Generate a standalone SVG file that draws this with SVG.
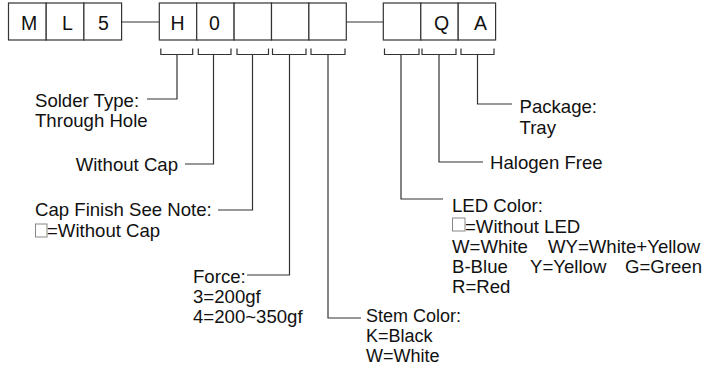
<svg xmlns="http://www.w3.org/2000/svg" width="706" height="367" viewBox="0 0 706 367">
<style>
.box{fill:#fff;stroke:#333;stroke-width:1.2}
.ln{fill:none;stroke:#333;stroke-width:1.2}
.t{font-family:"Liberation Sans",Arial,sans-serif;font-size:18.6px;fill:#111}
.s{font-size:18px}
.b{font-family:"Liberation Sans",Arial,sans-serif;font-size:19.5px;fill:#111;text-anchor:middle}
.sq{fill:#fff;stroke:#888;stroke-width:1}
</style>
<rect width="706" height="367" fill="#fff"/>
<g id="code">
<g id="box-M"><rect class="box" x="8.5" y="3" width="37.7" height="37"/><text class="b" x="29" y="29.5">M</text></g>
<g id="box-L"><rect class="box" x="46.2" y="3" width="37.7" height="37"/><text class="b" x="67.5" y="29.5">L</text></g>
<g id="box-5"><rect class="box" x="83.9" y="3" width="37.7" height="37"/><text class="b" x="103.5" y="29.5">5</text></g>
<g id="box-H"><rect class="box" x="159.3" y="3" width="37.4" height="37"/><text class="b" x="177.5" y="29.5">H</text></g>
<g id="box-0"><rect class="box" x="196.7" y="3" width="37.4" height="37"/><text class="b" x="214.5" y="29.5">0</text></g>
<g id="box-b1"><rect class="box" x="234.1" y="3" width="37.4" height="37"/></g>
<g id="box-b2"><rect class="box" x="271.5" y="3" width="37.4" height="37"/></g>
<g id="box-b3"><rect class="box" x="308.9" y="3" width="37.4" height="37"/></g>
<g id="box-b4"><rect class="box" x="383.3" y="3" width="37.5" height="37"/></g>
<g id="box-Q"><rect class="box" x="420.8" y="3" width="37.4" height="37"/><text class="b" x="441.5" y="29.5">Q</text></g>
<g id="box-A"><rect class="box" x="458.2" y="3" width="37.4" height="37"/><text class="b" x="480.5" y="29.5">A</text></g>
</g>
<g id="connectors">
<line class="ln" x1="121.6" y1="22" x2="159.3" y2="22"/>
<line class="ln" x1="346.3" y1="22" x2="383.3" y2="22"/>
<path class="ln" d="M160.8 48.5V54.5H192.7V48.5M177 54.5V99H147"/>
<path class="ln" d="M198.3 48.5V54.5H231V48.5M213.5 54.5V164H185"/>
<path class="ln" d="M237 48.5V54.5H268.5V48.5M252.5 54.5V210H218"/>
<path class="ln" d="M272.5 48.5V54.5H306V48.5M289.5 54.5V275H247"/>
<path class="ln" d="M311 48.5V54.5H345V48.5M328 54.5V318H361"/>
<path class="ln" d="M384.5 48.5V54.5H419V48.5M401 54.5V199H443"/>
<path class="ln" d="M422 48.5V54.5H456V48.5M439 54.5V162H483"/>
<path class="ln" d="M461 48.5V54.5H494V48.5M477.5 54.5V104H512"/>
</g>
<g id="solder"><text class="t" x="35" y="106.5">Solder Type:</text><text class="t" x="35" y="126.7">Through Hole</text></g>
<g id="without-cap"><text class="t" x="178" y="170.5" text-anchor="end">Without Cap</text></g>
<g id="cap-finish"><text class="t" x="35" y="216">Cap Finish See Note:</text><rect class="sq" x="35.5" y="224" width="11.5" height="13"/><text class="t" x="47" y="236.5">=Without Cap</text></g>
<g id="force"><text class="t" x="193" y="283">Force:</text><text class="t" x="193" y="303">3=200gf</text><text class="t" x="193" y="323">4=200~350gf</text></g>
<g id="stem"><text class="t s" x="366" y="321.5">Stem Color:</text><text class="t s" x="366" y="341.5">K=Black</text><text class="t s" x="366" y="361.5">W=White</text></g>
<g id="led"><text class="t" x="452" y="212">LED Color:</text><rect class="sq" x="452.5" y="218" width="12.5" height="13"/><text class="t" x="465" y="232.5">=Without LED</text><text class="t" x="452" y="253">W=White</text><text class="t" x="548" y="253">WY=White+Yellow</text><text class="t" x="452" y="273">B-Blue</text><text class="t" x="530" y="273">Y=Yellow</text><text class="t" x="625" y="273">G=Green</text><text class="t" x="452" y="292.5">R=Red</text></g>
<g id="halogen"><text class="t" x="490" y="168.5">Halogen Free</text></g>
<g id="package"><text class="t" x="519.5" y="113">Package:</text><text class="t" x="519.5" y="133.5">Tray</text></g>
</svg>
